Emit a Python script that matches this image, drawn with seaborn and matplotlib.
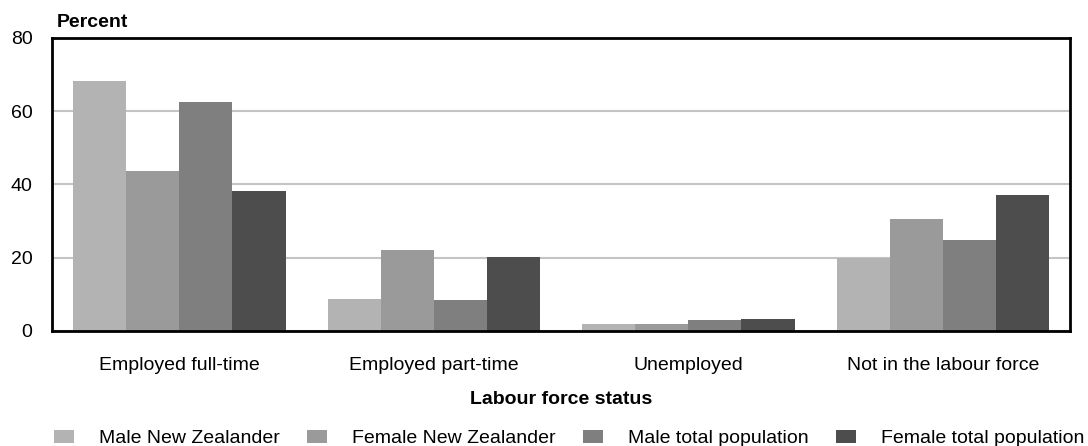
import pandas as pd
import matplotlib
import matplotlib.pyplot as plt
import seaborn as sns
matplotlib.use('Agg')

# данные
categories = ['Employed full-time', 'Employed part-time', 'Unemployed', 'Not in the labour force']
groups = ['Male New Zealander', 'Female New Zealander', 'Male total population', 'Female total population']
male_nz = [68.3, 8.7, 1.9, 19.9]
female_nz = [43.7, 22.1, 1.9, 30.6]
male_total = [62.6, 8.5, 3.0, 24.9]
female_total = [38.3, 20.2, 3.3, 37.2]
colors = ['#b3b3b3', '#9a9a9a', '#7f7f7f', '#4d4d4d']

rows = []
for g, vals in zip(groups, [male_nz, female_nz, male_total, female_total]):
    for c, v in zip(categories, vals):
        rows.append({'status': c, 'group': g, 'value': v})
df = pd.DataFrame(rows)

sns.set_theme(style="white")
plt.rcParams['font.family'] = ['Liberation Sans', 'DejaVu Sans']
plt.rcParams['text.color'] = 'black'
plt.rcParams['axes.labelcolor'] = 'black'

fig = plt.figure(figsize=(10.88, 4.46), dpi=100)
ax = fig.add_axes([0.0478, 0.258, 0.9357, 0.657])

sns.barplot(data=df, x='status', y='value', hue='group', hue_order=groups,
            order=categories, palette=colors, width=0.835, saturation=1,
            linewidth=0, ax=ax)

ax.set_ylim(0, 80)
ax.set_xlim(-0.5, 3.5)
ax.set_yticks([0, 20, 40, 60, 80])
ax.yaxis.grid(True, color='#c4c4c4', linewidth=1.5)
ax.set_axisbelow(True)
for s in ax.spines.values():
    s.set_color('black')
    s.set_linewidth(2)
ax.tick_params(axis='both', length=0, labelsize=14, colors='black')
ax.tick_params(axis='x', pad=19)
ax.tick_params(axis='y', pad=14)

ax.set_ylabel('')
ax.set_xlabel('Labour force status', fontsize=14, weight='bold', labelpad=12, color='black')
fig.text(57 / 1088, 1 - 27 / 446, 'Percent', fontsize=14, weight='bold',
         ha='left', va='baseline', color='black')

handles, labels = ax.get_legend_handles_labels()
ax.legend_.remove()
fig.legend(handles, labels, loc='center', bbox_to_anchor=(0.523, 0.016), ncol=4,
           frameon=False, fontsize=14, handlelength=1.03, handleheight=0.62,
           handletextpad=1.29, columnspacing=1.4, borderpad=0, borderaxespad=0)

fig.savefig('out.png', dpi=100)
